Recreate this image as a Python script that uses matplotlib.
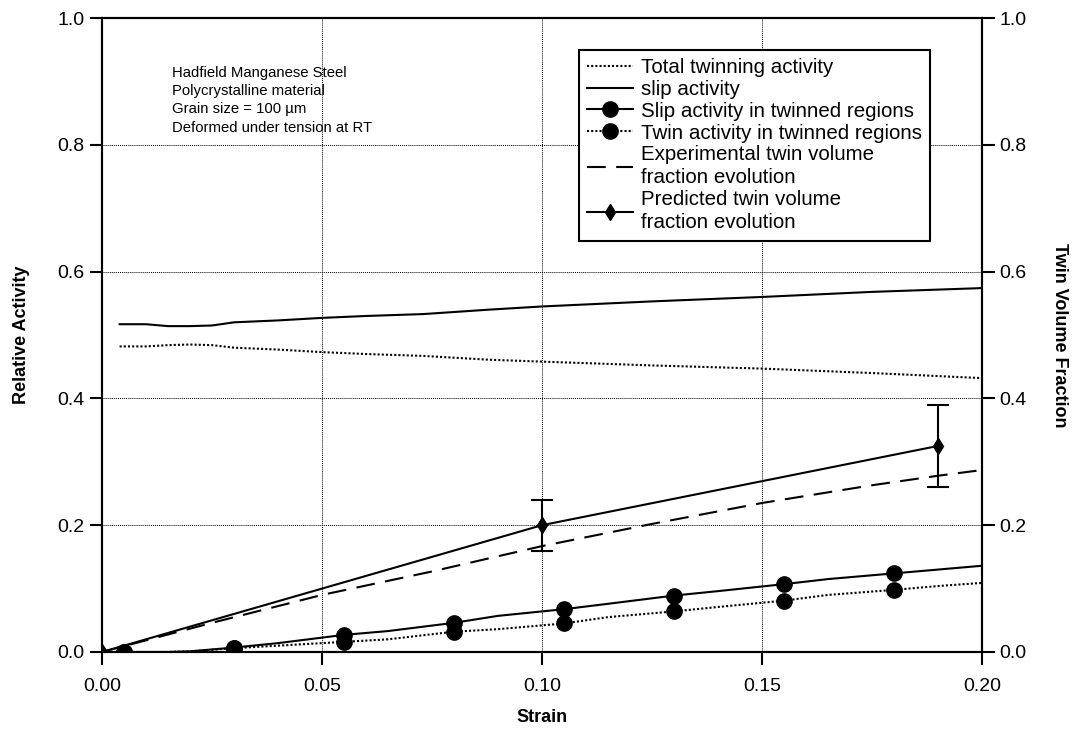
import numpy as np
import matplotlib
matplotlib.use("Agg")
import matplotlib.pyplot as plt

plt.rcParams['font.family'] = ['Liberation Sans', 'DejaVu Sans']

# strain axis for the smooth simulation curves
strain_sim = [0.004, 0.010, 0.015, 0.020, 0.025, 0.030, 0.040, 0.050, 0.060, 0.073,
              0.088, 0.100, 0.125, 0.150, 0.175, 0.200]
slip_total = [0.517, 0.517, 0.514, 0.514, 0.515, 0.520, 0.523, 0.527, 0.530, 0.533,
              0.540, 0.545, 0.553, 0.560, 0.568, 0.574]
twin_total = [0.482, 0.482, 0.484, 0.485, 0.484, 0.480, 0.477, 0.473, 0.470, 0.467,
              0.461, 0.458, 0.452, 0.447, 0.440, 0.432]

# activities inside the twinned regions
strain_tw = [0.005, 0.015, 0.020, 0.030, 0.040, 0.055, 0.065, 0.080, 0.090, 0.105,
             0.115, 0.130, 0.140, 0.155, 0.165, 0.180, 0.190, 0.200]
slip_tw = [0.000, 0.000, 0.001, 0.007, 0.014, 0.027, 0.033, 0.046, 0.057, 0.0675,
           0.076, 0.089, 0.096, 0.107, 0.115, 0.124, 0.130, 0.136]
twin_tw = [0.000, 0.000, 0.001, 0.006, 0.010, 0.016, 0.020, 0.032, 0.036, 0.045,
           0.055, 0.064, 0.071, 0.081, 0.090, 0.098, 0.104, 0.109]
marker_idx = [0, 3, 5, 7, 9, 11, 13, 15]

# twin volume fraction, experiment and model
strain_exp = [0.0, 0.025, 0.050, 0.075, 0.100, 0.125, 0.150, 0.175, 0.190, 0.200]
vf_exp = [0.0, 0.046, 0.090, 0.127, 0.167, 0.202, 0.235, 0.263, 0.278, 0.287]
strain_pred = [0.0, 0.10, 0.19]
vf_pred = [0.0, 0.20, 0.325]
vf_err_lo = [0.0, 0.04, 0.065]
vf_err_hi = [0.0, 0.04, 0.065]

info_lines = ["Hadfield Manganese Steel", "Polycrystalline material",
              "Grain size = 100 \u00b5m", "Deformed under tension at RT"]

fig = plt.figure(figsize=(10.76, 7.32), dpi=100)
ax = fig.add_axes([0.0948, 0.1093, 0.8178, 0.8661])
ax2 = ax.twinx()

lw = 1.5
h1, = ax.plot(strain_sim, twin_total, color='black', lw=lw, ls=(0, (1, 1)),
              label='Total twinning activity')
h2, = ax.plot(strain_sim, slip_total, color='black', lw=lw, ls='-',
              label='slip activity')
h3, = ax.plot(strain_tw, slip_tw, color='black', lw=lw, ls='-', marker='o', ms=11,
              markevery=marker_idx, label='Slip activity in twinned regions')
h4, = ax.plot(strain_tw, twin_tw, color='black', lw=lw, ls=(0, (1, 1)), marker='o', ms=11,
              markevery=marker_idx, label='Twin activity in twinned regions')

h5, = ax2.plot(strain_exp, vf_exp, color='black', lw=lw, ls=(0, (9, 5)),
               label='Experimental twin volume\nfraction evolution')
ax2.errorbar(strain_pred, vf_pred, yerr=[vf_err_lo, vf_err_hi], fmt='none',
             ecolor='black', elinewidth=lw, capsize=8, capthick=lw)
h6, = ax2.plot(strain_pred, vf_pred, color='black', lw=lw, marker='d', ms=8,
               label='Predicted twin volume\nfraction evolution')

for a in (ax, ax2):
    a.set_xlim(0, 0.2)
    a.set_ylim(0, 1.0)
    a.set_yticks(np.arange(0, 1.01, 0.2))
    for s in a.spines.values():
        s.set_linewidth(1.5)
    a.tick_params(direction='out', length=9, width=1.5, labelsize=14)

ax.set_xticks(np.arange(0, 0.201, 0.05))
ax.set_xticklabels(["0.00", "0.05", "0.10", "0.15", "0.20"])
ax.set_yticklabels(["0.0", "0.2", "0.4", "0.6", "0.8", "1.0"])
ax2.set_yticklabels(["0.0", "0.2", "0.4", "0.6", "0.8", "1.0"])
ax.tick_params(axis='x', pad=10)
ax.grid(True, color='black', lw=0.7, ls=(0, (1, 1)))

ax.set_xlabel("Strain", fontsize=13, fontweight='bold', labelpad=10)
ax.set_ylabel("Relative Activity", fontsize=13, fontweight='bold', labelpad=20)
ax2.set_ylabel("Twin Volume Fraction", fontsize=13, fontweight='bold',
               rotation=-90, labelpad=30)

ax.text(0.016, 0.925, "\n".join(info_lines), fontsize=10.7, va='top', ha='left',
        linespacing=1.4)

leg = ax.legend(handles=[h1, h2, h3, h4, h5, h6], loc='upper right',
                bbox_to_anchor=(0.941, 0.95), fontsize=14.8, handlelength=2.2,
                fancybox=False, framealpha=1, edgecolor='black', borderpad=0.4,
                labelspacing=0.14, handletextpad=0.4, borderaxespad=0)
for t in leg.get_texts():
    t.set_linespacing(1.27)
leg.get_frame().set_linewidth(1.5)
leg.set_zorder(10)
ax.set_zorder(ax2.get_zorder() + 1)
ax.patch.set_visible(False)

fig.savefig("out.png", dpi=100)
